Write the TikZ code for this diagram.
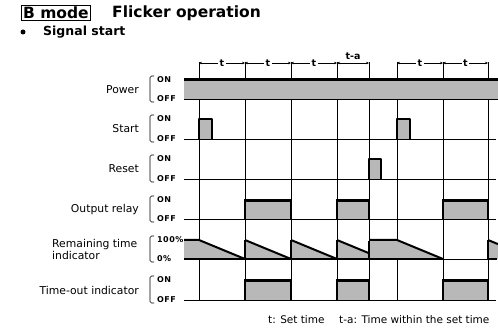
\documentclass[tikz,border=0pt]{standalone}
\usepackage{fontspec}
\setmainfont{DejaVu Sans}
\usetikzlibrary{arrows.meta}
\begin{document}
\begin{tikzpicture}[x=1pt,y=-1pt,
  lab/.style={font=\fontsize{10.8}{13}\selectfont, anchor=east, inner sep=0pt},
  onoff/.style={font=\bfseries\fontsize{8}{9}\selectfont\addfontfeatures{LetterSpace=6}, anchor=west, inner sep=0pt},
  gridline/.style={line width=0.6pt},
  baseline/.style={line width=0.8pt},
  hiline/.style={line width=2.4pt},
  sideline/.style={line width=1.3pt},
  ramp/.style={line width=2pt, line join=round},
  graybox/.style={fill=black!28},
  bracket/.style={line width=0.6pt, rounded corners=1.5pt},
  dim/.style={{Stealth[length=3pt,width=2.6pt]}-{Stealth[length=3pt,width=2.6pt]}, line width=0.6pt},
  tlab/.style={fill=white, inner sep=1.5pt, font=\bfseries\fontsize{9.5}{9.5}\selectfont},
]
\useasboundingbox (0,0) rectangle (498,328);
\fill[white] (0,0) rectangle (498,328);

% title
\node[draw, line width=1pt, inner sep=1.6pt, anchor=west, font=\bfseries\fontsize{15.5}{16}\selectfont] (mode) at (21,13) {B mode};
\node[anchor=west, inner sep=0pt, font=\bfseries\fontsize{15.5}{16}\selectfont] (title) at (112,13) {Flicker operation};
\node[circle, fill, inner sep=0pt, minimum size=5pt] (bullet) at (23,32) {};
\node[anchor=west, inner sep=0pt, font=\bfseries\fontsize{12.5}{13}\selectfont] (sigstart) at (43,32) {Signal start};

% grid lines
\foreach \x in {199,245,291,337,369,397,443,488}
  \draw[gridline] (\x,62) -- (\x,301);

% dimension arrows
\foreach \a/\b [count=\i] in {199/245,245/291,291/337,397/443,443/488}{
  \coordinate (da\i) at (\a,63);
  \coordinate (db\i) at (\b,63);
  \draw[dim] (da\i) -- (db\i) node[midway, tlab] (tl\i) {t};
}
\coordinate (ta1) at (337,63);
\coordinate (ta2) at (369,63);
\draw[dim] (ta1) -- (ta2) node[midway, above=3pt, inner sep=0pt, font=\bfseries\fontsize{9.5}{9.5}\selectfont] (tal) {t-a};

% power band
\fill[graybox] (184,79) rectangle (498,99);
\draw[hiline] (184,79.5) -- (498,79.5);
\draw[baseline] (184,99) -- (498,99);

% rows: labels, brackets, ON/OFF, baselines
\foreach \nm/\on/\off/\id in {Power/80/99/pw, Start/119/139/st, Reset/159/179/rs, Output relay/200/219/or, Time-out indicator/280/300/to}{
  \node[lab] (\id) at (139,{(\on+\off)/2}) {\nm};
  \draw[bracket] (154,\on-4) -- (150,\on-4) -- (150,\off+3) -- (154,\off+3);
  \node[onoff] (\id on) at (157,\on) {ON};
  \node[onoff] (\id off) at (157,\off) {OFF};
  \draw[baseline] (184,\off) -- (496,\off);
}
\node[anchor=west, align=left, inner sep=0pt, font=\fontsize{10.8}{12}\selectfont] (rt) at (52,249) {Remaining time\\indicator};
\draw[bracket] (154,236) -- (150,236) -- (150,262) -- (154,262);
\node[onoff] (rt100) at (157,240) {100\%};
\node[onoff] (rt0) at (157,259) {0\%};

% start and reset pulses
\foreach \a/\b/\on/\off in {199/212/119/139, 397/410/119/139, 369/381/159/179}{
  \fill[graybox] (\a,\off) rectangle (\b,\on);
  \draw[line width=1.8pt, line join=round] (\a,\off) -- (\a,\on) -- (\b,\on) -- (\b,\off);
}

% output relay and time-out pulses
\foreach \a/\b in {245/291, 337/369, 443/488}{
  \foreach \on/\off in {200/219, 280/300}{
    \fill[graybox] (\a,\off) rectangle (\b,\on);
    \draw[sideline] (\a,\off) -- (\a,\on);
    \draw[sideline] (\b,\off) -- (\b,\on);
    \draw[hiline] (\a-0.6,\on+0.6) -- (\b+0.6,\on+0.6);
  }
}

% remaining time indicator
\fill[graybox] (184,240) -- (199,240) -- (245,259) -- (184,259) -- cycle;
\draw[ramp] (184,240) -- (199,240) -- (245,259);
\foreach \a/\b in {245/291, 291/337}{
  \fill[graybox] (\a,259) -- (\a,240) -- (\b,259) -- cycle;
  \draw[sideline] (\a,259) -- (\a,240);
  \draw[ramp] (\a,240) -- (\b,259);
}
\fill[graybox] (337,259) -- (337,240) -- (369,253.2) -- (369,259) -- cycle;
\draw[sideline] (337,259) -- (337,240);
\draw[ramp] (337,240) -- (369,253.2);
\fill[graybox] (369,259) -- (369,240) -- (397,240) -- (443,259) -- cycle;
\draw[sideline] (369,259) -- (369,241);
\draw[ramp] (369,240) -- (397,240) -- (443,259);
\fill[graybox] (488,259) -- (488,240) -- (498,244.1) -- (498,259) -- cycle;
\draw[sideline] (488,259) -- (488,240);
\draw[ramp] (488,240) -- (498,244.1);
\draw[line width=1.8pt] (184,259) -- (443,259);
\draw[baseline] (443,259) -- (488,259);
\draw[line width=1.8pt] (488,259) -- (497,259);

% caption
\node[anchor=west, inner sep=0pt, font=\fontsize{10.5}{12}\selectfont] (cap1) at (268,320) {t: Set time};
\node[anchor=west, inner sep=0pt, font=\fontsize{10.5}{12}\selectfont] (cap2) at (339,320) {t-a: Time within the set time};
\end{tikzpicture}
\end{document}
